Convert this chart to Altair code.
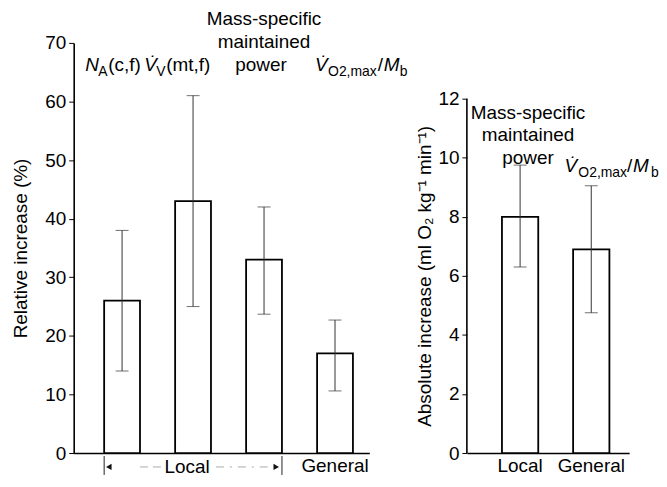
import altair as alt
import pandas as pd

FONT = "Liberation Sans"

# ---------------- data ----------------
rel_cats = ["NA", "VV", "MSP", "VO2"]
rel_mean = [26, 43, 33, 17]
rel_lo = [14, 25, 23.7, 10.6]
rel_hi = [38, 61, 42, 22.7]
rel_ticks = [0, 10, 20, 30, 40, 50, 60, 70]
rel_xlabels = ["", "", "", "General"]
group_label = "Local"

abs_cats = ["Local", "General"]
abs_mean = [8.0, 6.9]
abs_lo = [6.3, 4.75]
abs_hi = [9.75, 9.05]
abs_ticks = [0, 2, 4, 6, 8, 10, 12]
abs_xlabels = ["Local", "General"]

rel_df = pd.DataFrame({"cat": rel_cats, "mean": rel_mean, "lo": rel_lo, "hi": rel_hi})
abs_df = pd.DataFrame({"cat": abs_cats, "mean": abs_mean, "lo": abs_lo, "hi": abs_hi})

LH = 412  # plot height (both panels share the top)
RH = 356  # visible height of right axis (0..12)


def label_expr(cats, labels):
    expr = "''"
    for c, l in reversed(list(zip(cats, labels))):
        expr = f"datum.value == '{c}' ? '{l}' : ({expr})"
    return expr


def xenc(cats, pin, pout, align, labels, bp=None):
    kw = {}
    if bp is not None:
        kw["bandPosition"] = bp
    return alt.X(
        "cat:N",
        sort=cats,
        scale=alt.Scale(domain=cats, paddingInner=pin, paddingOuter=pout, align=align),
        axis=alt.Axis(title=None, ticks=False, labelAngle=0, labelPadding=4,
                      labelExpr=label_expr(cats, labels), domainWidth=1.6),
        **kw,
    )


def piece(cat, text, dx, y, X, size=19, italic=False, align="left", baseline="alphabetic"):
    d = pd.DataFrame({"cat": [cat], "t": [text]})
    return alt.Chart(d).mark_text(
        align=align, baseline=baseline, dx=dx, font=FONT, fontSize=size,
        fontStyle="italic" if italic else "normal", color="black"
    ).encode(x=X, y=alt.value(y), text="t:N")


# ---------------- left panel ----------------
def LXb(bp=None):
    return xenc(rel_cats, 0.495, 0.33, 0.65, rel_xlabels, bp=bp)


LX = LXb()
LY = alt.Y("mean:Q", scale=alt.Scale(domain=[0, 70], nice=False),
           axis=alt.Axis(values=rel_ticks, title="Relative increase (%)", tickSize=5,
                         labelPadding=3, titlePadding=14, domainWidth=1.6))

lbase = alt.Chart(rel_df)
lbars = lbase.mark_bar(fill="white", stroke="black", strokeWidth=1.8).encode(x=LX, y=LY)
lerr = lbase.mark_rule(color="#333", strokeWidth=1).encode(x=LX, y="lo:Q", y2="hi:Q")
lcap_hi = lbase.mark_tick(color="#333", size=13, thickness=1).encode(x=LX, y="hi:Q")
lcap_lo = lbase.mark_tick(color="#333", size=13, thickness=1).encode(x=LX, y="lo:Q")

SUB = 14
lt = [
    piece("NA", "N", -37, 28, LX, italic=True),
    piece("NA", "A", -24, 33, LX, size=SUB),
    piece("NA", "(c,f)", -14, 28, LX),
    piece("VV", "V\u0307", -49, 28, LX, italic=True),
    piece("VV", "V", -37, 33, LX, size=SUB),
    piece("VV", "(mt,f)", -27, 28, LX),
    piece("MSP", "Mass-specific", 0, -18, LX, align="center"),
    piece("MSP", "maintained", 0, 5, LX, align="center"),
    piece("MSP", "power", -3, 28, LX, align="center"),
    piece("VO2", "V\u0307", -20, 28, LX, italic=True),
    piece("VO2", "O2,max", -7, 33, LX, size=SUB),
    piece("VO2", "/", 43, 28, LX),
    piece("VO2", "M", 49, 28, LX, italic=True),
    piece("VO2", "b", 65, 33, LX, size=SUB),
    piece("VV", group_label, -6, LH + 14, LX, align="center", baseline="middle"),
]

# "Local" bracket under the first three bars
BY = LH + 14
br_l = alt.Chart(pd.DataFrame({"cat": ["NA"]})).mark_rule(color="#222", strokeWidth=1).encode(
    x=LXb(0), y=alt.value(LH + 3), y2=alt.value(LH + 22))
br_r = alt.Chart(pd.DataFrame({"cat": ["MSP"]})).mark_rule(color="#222", strokeWidth=1).encode(
    x=LXb(1), y=alt.value(LH + 3), y2=alt.value(LH + 22))
dash_l = alt.Chart(pd.DataFrame({"cat": ["NA"], "cat2": ["VV"]})).mark_rule(
    color="#aaa", strokeWidth=1, strokeDash=[8, 5], x2Offset=-14).encode(
    x=LXb(1), x2=alt.X2("cat2:N", bandPosition=0), y=alt.value(BY))
dash_r = alt.Chart(pd.DataFrame({"cat": ["VV"], "cat2": ["MSP"]})).mark_rule(
    color="#aaa", strokeWidth=1, strokeDash=[8, 6, 2, 6], xOffset=5).encode(
    x=LXb(1), x2=alt.X2("cat2:N", bandPosition=0.68), y=alt.value(BY))
arr_l = alt.Chart(pd.DataFrame({"cat": ["NA"]})).mark_point(
    shape="triangle-left", filled=True, color="#111", size=40, opacity=1).encode(
    x=LXb(0.13), y=alt.value(BY))
arr_r = alt.Chart(pd.DataFrame({"cat": ["MSP"]})).mark_point(
    shape="triangle-right", filled=True, color="#111", size=40, opacity=1).encode(
    x=LXb(0.84), y=alt.value(BY))

left = alt.layer(lbars, lerr, lcap_hi, lcap_lo, *lt, br_l, br_r, dash_l, dash_r, arr_l, arr_r).properties(
    width=297, height=LH)

# ---------------- right panel ----------------
RX = xenc(abs_cats, 0.49, 0.385, 0.64, abs_xlabels)
RY = alt.Y("mean:Q", scale=alt.Scale(domain=[0, 12 * LH / RH], nice=False),
           axis=alt.Axis(values=abs_ticks, title="Absolute increase (ml O\u2082 kg\u207b\u00b9 min\u207b\u00b9)",
                         tickSize=5, labelPadding=3, titlePadding=3, domain=False,
                         titleY=LH - RH / 2))

rbase = alt.Chart(abs_df)
rbars = rbase.mark_bar(fill="white", stroke="black", strokeWidth=1.8).encode(x=RX, y=RY)
rerr = rbase.mark_rule(color="#333", strokeWidth=1).encode(x=RX, y="lo:Q", y2="hi:Q")
rcap_hi = rbase.mark_tick(color="#333", size=13, thickness=1).encode(x=RX, y="hi:Q")
rcap_lo = rbase.mark_tick(color="#333", size=13, thickness=1).encode(x=RX, y="lo:Q")
raxis = alt.Chart(pd.DataFrame({"a": [0], "b": [max(abs_ticks)]})).mark_rule(
    color="black", strokeWidth=1.6).encode(x=alt.value(0), y=alt.Y("a:Q"), y2="b:Q")

rt = [
    piece("Local", "Mass-specific", 8, 76, RX, align="center"),
    piece("Local", "maintained", 8, 99, RX, align="center"),
    piece("Local", "power", 8, 122, RX, align="center"),
    piece("General", "V\u0307", -27, 130, RX, italic=True),
    piece("General", "O2,max", -13, 135, RX, size=SUB),
    piece("General", "/", 36, 130, RX),
    piece("General", "M", 42, 130, RX, italic=True),
    piece("General", "b", 60, 135, RX, size=SUB),
]

right = alt.layer(rbars, rerr, rcap_hi, rcap_lo, raxis, *rt).properties(width=163, height=LH)

chart = alt.hconcat(left, right, spacing=98, bounds="flush").properties(
    padding={"left": 3, "top": 1, "right": 0, "bottom": 0}
).configure_axis(
    labelFont=FONT, titleFont=FONT, labelFontSize=19, titleFontSize=19,
    labelColor="black", titleColor="black", domainColor="black", tickColor="black",
    titleFontWeight="normal", grid=False,
).configure_view(stroke=None)

chart.save("out.html", embed_options={"renderer": "svg", "actions": False})
